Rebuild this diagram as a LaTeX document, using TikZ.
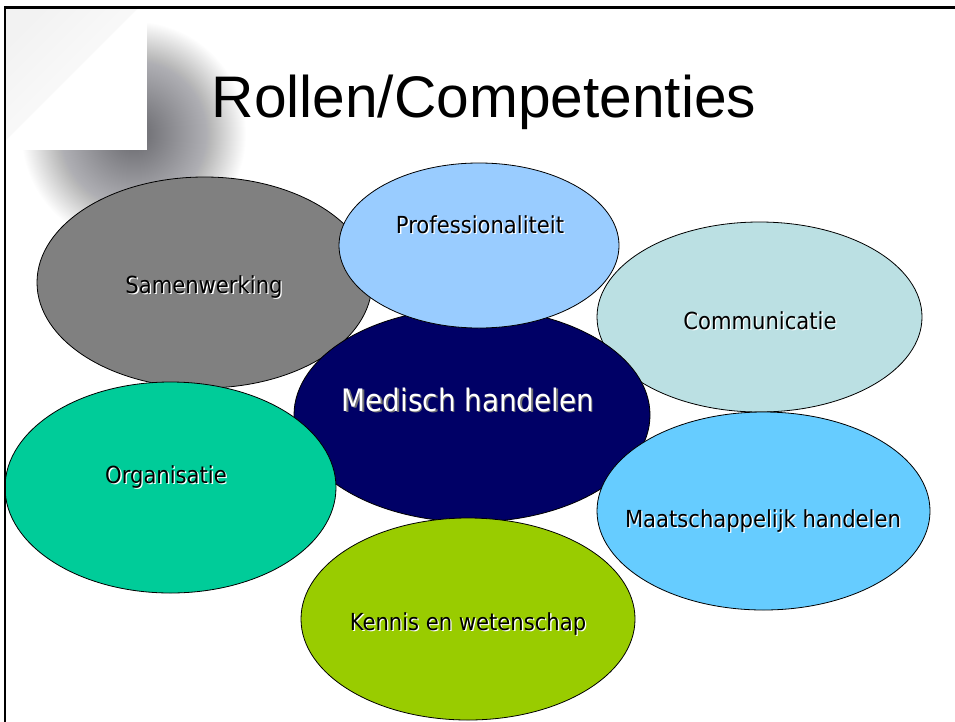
\documentclass[tikz,border=0pt]{standalone}
\usepackage{fontspec}
\setmainfont{Liberation Sans}
\newfontfamily\tah{DejaVu Sans Condensed}
\usetikzlibrary{shapes.geometric}
\definecolor{cSamen}{HTML}{808080}
\definecolor{cProf}{HTML}{99CCFF}
\definecolor{cComm}{HTML}{BBE0E3}
\definecolor{cMed}{HTML}{000066}
\definecolor{cOrg}{HTML}{00CC99}
\definecolor{cMaat}{HTML}{66CCFF}
\definecolor{cKen}{HTML}{99CC00}
\definecolor{cShadow}{HTML}{30303A}
\newcommand{\ovaltext}[4]{% #1 style, #2 position, #3 name, #4 text
  \node[#1sh, xshift=1pt, yshift=-1pt] at #2 {#4};
  \node[#1] (#3) at #2 {#4};}
\begin{document}
\begin{tikzpicture}[x=0.75pt,y=-0.75pt,
  oval/.style={ellipse, draw=black, line width=0.6pt, inner sep=0pt},
  txt/.style={font=\tah\fontsize{17.6}{20}\selectfont, anchor=base, inner sep=0pt, text=black},
  txtsh/.style={txt, text=white},
  bigtxt/.style={font=\tah\fontsize{23.2}{26}\selectfont, anchor=base, inner sep=0pt, text=white},
  bigtxtsh/.style={bigtxt, text=black!55},
  title/.style={font=\fontsize{44}{50}\selectfont, anchor=base, inner sep=0pt}]
\useasboundingbox (0,0) rectangle (955,721);
\fill[white] (0,0) rectangle (955,721);
% page curl shadow (soft radial fall-off built from stacked translucent discs)
\begin{scope}
  \clip (5,8) rectangle (330,330);
  \foreach \r in {16,17,...,112} {
    \fill[cShadow, opacity=0.007] (134,134) circle (\r);
  }
\end{scope}
\fill[white] (5,8) rectangle (147,150);
\shade[top color=black!5, middle color=black!30, bottom color=white, shading angle=45]
  (5,8) -- (138,8) -- (5,141) -- cycle;
% title
\node[title] (ttl) at (484,117) {Rollen/Competenties};
% ellipses
\node[oval, fill=cSamen, minimum width=335*0.75pt, minimum height=211*0.75pt] (samen) at (204.5,282.5) {};
\node[oval, fill=cComm, minimum width=325*0.75pt, minimum height=190*0.75pt] (comm) at (759.5,317) {};
\node[oval, fill=cMed, minimum width=356*0.75pt, minimum height=214*0.75pt] (med) at (472,415) {};
\node[oval, fill=cProf, minimum width=280*0.75pt, minimum height=165*0.75pt] (prof) at (479,245.5) {};
\node[oval, fill=cOrg, minimum width=331*0.75pt, minimum height=211*0.75pt] (org) at (170.5,487.5) {};
\node[oval, fill=cMaat, minimum width=333*0.75pt, minimum height=198*0.75pt] (maat) at (763.5,511) {};
\node[oval, fill=cKen, minimum width=334*0.75pt, minimum height=202*0.75pt] (ken) at (468,619) {};
% texts
\ovaltext{txt}{(204,293)}{tSamen}{Samenwerking}
\ovaltext{txt}{(480,233)}{tProf}{Professionaliteit}
\ovaltext{txt}{(760,329)}{tComm}{Communicatie}
\ovaltext{bigtxt}{(468,411)}{tMed}{Medisch handelen}
\ovaltext{txt}{(166,483)}{tOrg}{Organisatie}
\ovaltext{txt}{(763,527)}{tMaat}{Maatschappelijk handelen}
\ovaltext{txt}{(468,630)}{tKen}{Kennis en wetenschap}
% frame
\draw[line width=1.9pt, line cap=rect] (5,721) -- (5,7.5) -- (955,7.5);
\end{tikzpicture}
\end{document}
